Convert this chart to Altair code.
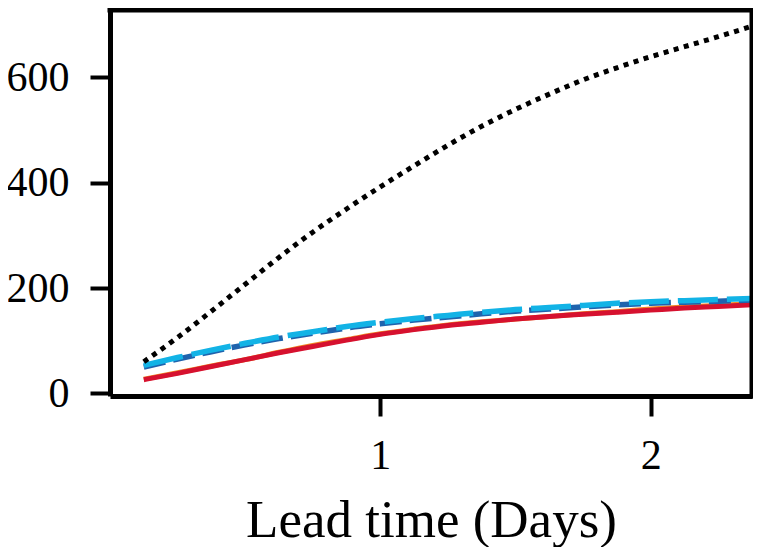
import altair as alt
import pandas as pd

lead = [0.125, 0.25, 0.375, 0.5, 0.625, 0.75, 0.875, 1.0, 1.125, 1.25,
        1.375, 1.5, 1.625, 1.75, 1.875, 2.0, 2.125, 2.25, 2.375]

dotted_black = [60, 106, 156, 207, 258, 306, 350, 392, 432, 471,
                507, 539, 568, 595, 618, 639, 658, 677, 697]
dash_dark = [50, 65, 79, 92, 104, 114, 124, 132, 139, 145,
             151, 156, 160, 164, 168, 171, 173, 175, 177]
dash_cyan = [53, 68, 82, 95, 107, 117, 127, 135, 142, 148,
             154, 159, 163, 167, 171, 174, 176, 178, 180]
solid_orange = [27, 39, 52, 64, 78, 91, 102, 113, 122, 130,
                136, 141, 146, 151, 155, 160, 164, 167, 170]
solid_red = [26, 38, 51, 64, 77, 89, 101, 112, 121, 129,
             135, 141, 146, 150, 154, 158, 162, 165, 168]

x_ticks = [1, 2]
y_ticks = [0, 200, 400, 600]

FONT = "Liberation Serif"
W, H = 642, 386

def df(vals):
    return pd.DataFrame({"lead": lead, "v": vals})

xs = alt.Scale(domain=[0, 2.375], nice=False, zero=False)
ys = alt.Scale(domain=[-5, 727.7], nice=False, zero=False)

xax = alt.Axis(values=x_ticks, format="d", title="Lead time (Days)", grid=False,
               domain=True, domainColor="black", domainWidth=5,
               tickColor="black", tickWidth=4, tickSize=20,
               labelFont=FONT, labelFontSize=42, labelColor="black", labelPadding=19,
               titleFont=FONT, titleFontSize=53, titleFontWeight="normal",
               titleColor="black", titleBaseline="alphabetic", titleY=140)
yax = alt.Axis(values=y_ticks, format="d", title=None, grid=False,
               domain=True, domainColor="black", domainWidth=5,
               tickColor="black", tickWidth=4, tickSize=20,
               labelFont=FONT, labelFontSize=42, labelColor="black", labelPadding=21)

def line(vals, color, width, dash=None):
    kw = dict(color=color, strokeWidth=width, clip=True, strokeCap="butt",
              interpolate="monotone")
    if dash:
        kw["strokeDash"] = dash
    x = alt.X("lead:Q", scale=xs, axis=xax)
    y = alt.Y("v:Q", scale=ys, axis=yax)
    return alt.Chart(df(vals)).mark_line(**kw).encode(x=x, y=y)

top_edge = alt.Chart().mark_rule(color="black", strokeWidth=5, strokeCap="square").encode(
    x=alt.value(0), x2=alt.value(W), y=alt.value(0))
right_edge = alt.Chart().mark_rule(color="black", strokeWidth=5, strokeCap="square").encode(
    x=alt.value(W), y=alt.value(0), y2=alt.value(H))

chart = alt.layer(
    line(solid_orange, "#f08a24", 5),
    line(solid_red, "#d6112f", 5),
    line(dash_dark, "#1f63ad", 5.5, [22, 8]),
    line(dash_cyan, "#12b3e6", 5.5, [40, 9]),
    line(dotted_black, "black", 5, [5, 5.5]),
    top_edge,
    right_edge,
).properties(
    width=W, height=H, autosize="none",
    padding={"left": 102, "top": 2, "right": 1, "bottom": 151},
    background="white",
).configure_view(stroke=None)

chart.save("out.html", embed_options={"renderer": "svg", "actions": False})
